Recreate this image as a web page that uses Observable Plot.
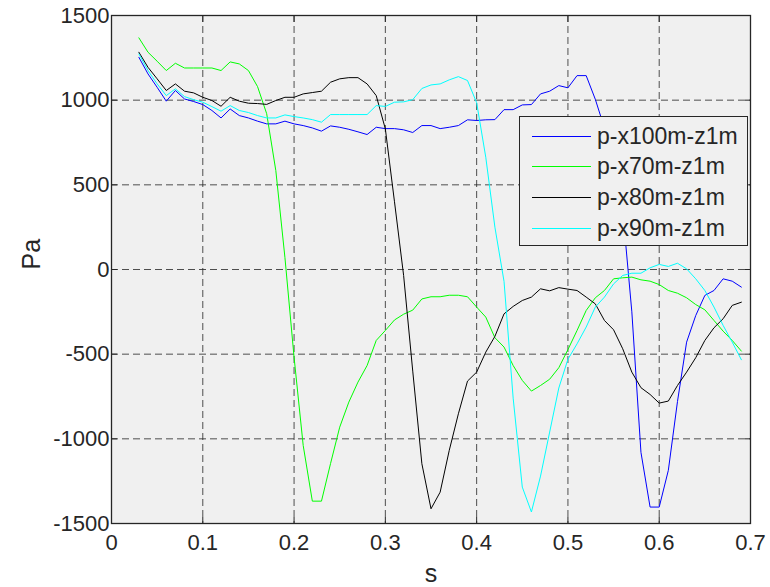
<!DOCTYPE html>
<html>
<head>
<meta charset="utf-8">
<script src="https://cdn.jsdelivr.net/npm/d3@7"></script>
<script src="https://cdn.jsdelivr.net/npm/@observablehq/plot@0.6"></script>
<style>
  body { margin: 0; background: #fff; }
  #wrap { position: relative; width: 770px; height: 587px; font-family: "Liberation Sans", Arial, Helvetica, sans-serif; }
  #legend { position: absolute; box-sizing: border-box; border: 1px solid #262626; background: #f0f0f0; }
  #legend .row { position: absolute; left: 0; height: 0; }
  #legend .sw { position: absolute; height: 0; border-top: 1px solid; }
  #legend .lab { position: absolute; font-size: 23px; color: #262626; line-height: 1; transform: translateY(-50%); white-space: nowrap; }
</style>
</head>
<body>
<div id="wrap"></div>
<script>
// time (s)
const s = [0.03,0.04,0.05,0.06,0.07,0.08,0.09,0.10,0.11,0.12,0.13,0.14,0.15,0.16,0.17,0.18,0.19,0.20,
  0.21,0.22,0.23,0.24,0.25,0.26,0.27,0.28,0.29,0.30,0.31,0.32,0.33,0.34,0.35,0.36,0.37,0.38,0.39,0.40,
  0.41,0.42,0.43,0.44,0.45,0.46,0.47,0.48,0.49,0.50,0.51,0.52,0.53,0.54,0.55,0.56,0.57,0.58,0.59,0.60,
  0.61,0.62,0.63,0.64,0.65,0.66,0.67,0.68,0.69];

// pressure (Pa)
const pX100 = [1253,1155,1076,994,1057,1007,992,974,939,895,948,909,895,876,860,860,876,860,
  850,836,817,848,840,828,813,797,840,832,832,825,809,850,850,832,840,850,884,880,
  884,885,944,944,972,974,1037,1053,1086,1073,1145,1145,1005,835,640,350,-250,-1080,-1403,-1403,
  -1186,-780,-429,-272,-153,-124,-55,-69,-104];
const pX70 = [1368,1283,1230,1175,1218,1190,1190,1190,1190,1175,1226,1214,1175,1080,920,584,70,-518,
  -1039,-1368,-1368,-1145,-931,-783,-665,-567,-419,-360,-298,-264,-240,-174,-161,-161,-152,-152,-161,-222,
  -281,-403,-458,-567,-655,-718,-685,-648,-580,-473,-360,-242,-167,-124,-55,-49,-45,-61,-69,-89,
  -124,-140,-167,-207,-238,-301,-364,-419,-482];
const pX80 = [1283,1194,1126,1057,1096,1053,1043,1017,998,964,1017,994,982,980,975,998,1017,1017,
  1037,1045,1053,1106,1126,1133,1133,1096,1027,830,400,-35,-600,-1147,-1413,-1315,-1068,-852,-659,-606,
  -488,-395,-262,-218,-183,-163,-114,-126,-107,-116,-124,-163,-203,-301,-356,-468,-606,-698,-738,-789,
  -777,-685,-606,-521,-419,-344,-291,-212,-193];
const pX90 = [1273,1175,1096,1027,1067,1021,1003,988,962,935,968,939,927,909,895,895,913,903,
  895,885,870,915,915,915,915,915,968,963,988,990,1003,1069,1090,1096,1120,1139,1116,985,
  663,250,-70,-760,-1285,-1432,-1220,-960,-700,-530,-439,-340,-222,-163,-85,-35,-22,-22,10,30,
  18,37,4,-55,-124,-222,-330,-429,-533];

const seriesNames = ["p-x100m-z1m", "p-x70m-z1m", "p-x80m-z1m", "p-x90m-z1m"];
const seriesValues = [pX100, pX70, pX80, pX90];
const seriesColors = ["#0000ff", "#00ff00", "#000000", "#00ffff"];

const xTicks = [0, 0.1, 0.2, 0.3, 0.4, 0.5, 0.6, 0.7];
const yTicks = [-1500, -1000, -500, 0, 500, 1000, 1500];
const xLabel = "s";
const yLabel = "Pa";

const data = [];
seriesNames.forEach((name, i) => {
  seriesValues[i].forEach((v, j) => data.push({s: s[j], p: v, series: name}));
});

const axisColor = "#262626";
const gridStyle = {stroke: "#262626", strokeOpacity: 0.8, strokeWidth: 1, strokeDasharray: "7,4"};

const chart = Plot.plot({
  width: 770,
  height: 587,
  marginLeft: 111,
  marginRight: 20,
  marginTop: 15,
  marginBottom: 64,
  style: {fontFamily: "'Liberation Sans', Arial, Helvetica, sans-serif", fontSize: "22px", background: "white", color: axisColor, overflow: "visible"},
  x: {domain: [0, 0.7]},
  y: {domain: [-1500, 1500]},
  color: {domain: seriesNames, range: seriesColors},
  marks: [
    Plot.frame({fill: "#f0f0f0", stroke: null}),
    Plot.gridX(xTicks, gridStyle),
    Plot.gridY(yTicks, gridStyle),
    Plot.line(data, {x: "s", y: "p", z: "series", stroke: "series", strokeWidth: 1}),
    Plot.frame({stroke: axisColor, strokeWidth: 1.3}),
    Plot.axisX(xTicks, {anchor: "bottom", tickSize: -6, tickPadding: 17, tickFormat: d => String(d), label: null, stroke: axisColor}),
    Plot.axisX(xTicks, {anchor: "top", tickSize: -6, tickFormat: () => "", label: null, stroke: axisColor}),
    Plot.axisY(yTicks, {anchor: "left", tickSize: -6, tickPadding: 8, tickFormat: d => String(d), label: null, stroke: axisColor}),
    Plot.axisY(yTicks, {anchor: "right", tickSize: -6, tickFormat: () => "", label: null, stroke: axisColor}),
    Plot.text([xLabel], {frameAnchor: "bottom", dy: 50, lineAnchor: "middle", text: d => d, fontSize: 25, fill: axisColor}),
    Plot.text([yLabel], {frameAnchor: "left", dx: -80, rotate: -90, text: d => d, fontSize: 25, fill: axisColor})
  ]
});

const wrap = document.getElementById("wrap");
wrap.appendChild(chart);

// legend (inside the axes, upper right)
const leg = d3.select(wrap).append("div").attr("id", "legend")
  .style("left", "519px").style("top", "116px").style("width", "229px").style("height", "130px");
const rowTops = [20, 50, 81, 112];
seriesNames.forEach((name, i) => {
  const row = leg.append("div").attr("class", "row").style("top", (rowTops[i] - 1) + "px");
  row.append("div").attr("class", "sw").style("left", "12px").style("width", "59px").style("border-color", seriesColors[i]);
  row.append("div").attr("class", "lab").style("left", "77px").text(name);
});
</script>
</body>
</html>
